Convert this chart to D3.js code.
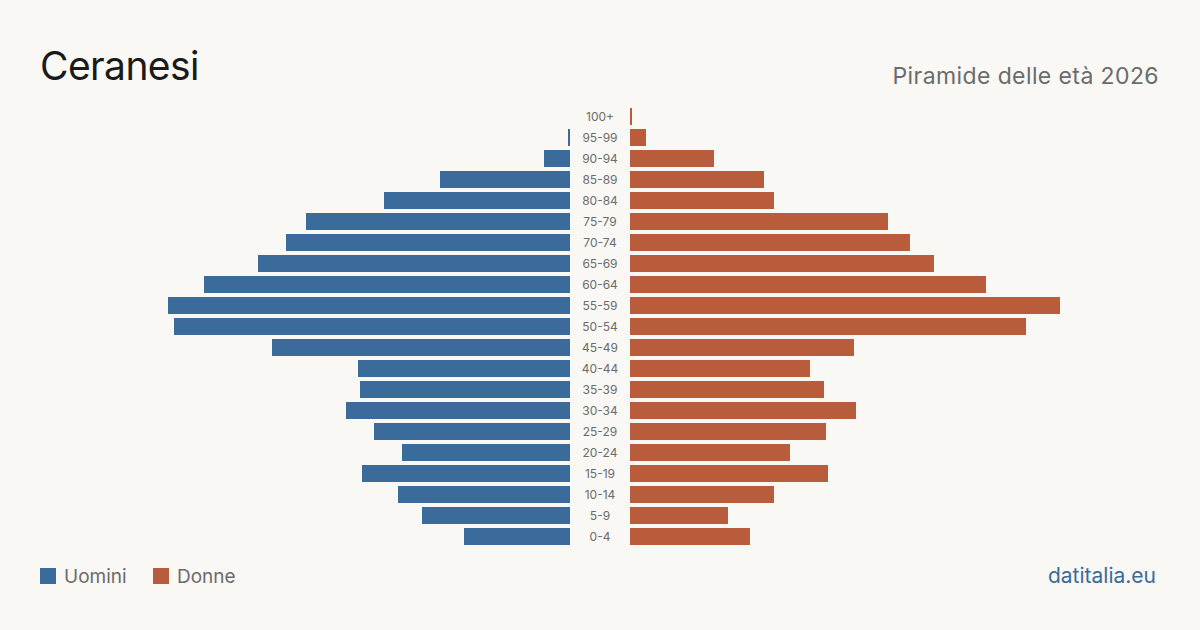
<!DOCTYPE html>
<html>
<head>
  <meta charset="utf-8">
  <title>Ceranesi - Piramide delle età 2026</title>
  <style>
    body { margin: 0; background: #f9f8f4; }
    svg { display: block; font-family: Inter, "Noto Sans", sans-serif; }
  </style>
</head>
<body>
  <script src="https://cdn.jsdelivr.net/npm/d3@7"></script>
  <script>
    // age classes, from youngest to oldest
    var ages = ["0-4", "5-9", "10-14", "15-19", "20-24", "25-29", "30-34", "35-39", "40-44", "45-49",
                "50-54", "55-59", "60-64", "65-69", "70-74", "75-79", "80-84", "85-89", "90-94", "95-99", "100+"];
    // residents by age class
    var uomini = [53, 74, 86, 104, 84, 98, 112, 105, 106, 149, 198, 201, 183, 156, 142, 132, 93, 65, 13, 1, 0];
    var donne  = [60, 49, 72, 99, 80, 98, 113, 97, 90, 112, 198, 215, 178, 152, 140, 129, 72, 67, 42, 8, 1];

    var width = 1200, height = 630;
    var blu = "#3b6b9b", rosso = "#b85c3c";

    var svg = d3.select("body").append("svg").attr("width", width).attr("height", height);
    svg.append("rect").attr("width", width).attr("height", height).attr("fill", "#f9f8f4");

    var maxVal = d3.max(uomini.concat(donne));
    // each side gets the same scale
    var xLeft = d3.scaleLinear().domain([0, maxVal]).range([570, 140]);
    var xRight = d3.scaleLinear().domain([0, maxVal]).range([630, 1060]);
    var y = d3.scaleBand().domain(ages.slice().reverse()).range([106, 547]).paddingInner(0.19).paddingOuter(0.095);

    svg.selectAll("rect.m").data(ages).enter().append("rect")
      .attr("class", "m")
      .attr("x", function(d, i) { return xLeft(uomini[i]); })
      .attr("y", function(d) { return y(d); })
      .attr("width", function(d, i) { return xLeft(0) - xLeft(uomini[i]); })
      .attr("height", y.bandwidth())
      .attr("fill", blu);

    svg.selectAll("rect.f").data(ages).enter().append("rect")
      .attr("class", "f")
      .attr("x", xRight(0))
      .attr("y", function(d) { return y(d); })
      .attr("width", function(d, i) { return xRight(donne[i]) - xRight(0); })
      .attr("height", y.bandwidth())
      .attr("fill", rosso);

    svg.selectAll("text.age").data(ages).enter().append("text")
      .attr("class", "age")
      .attr("x", 600)
      .attr("y", function(d) { return y(d) + y.bandwidth() / 2; })
      .attr("dy", "0.35em")
      .attr("text-anchor", "middle")
      .attr("font-size", 12)
      .attr("fill", "#6b6b6b")
      .text(function(d) { return d; });

    // titles
    svg.append("text").attr("x", 40).attr("y", 80).attr("font-size", 39).attr("letter-spacing", -0.6)
      .attr("fill", "#1a1a1a").text("Ceranesi");
    svg.append("text").attr("x", 1159).attr("y", 84).attr("text-anchor", "end").attr("font-size", 23)
      .attr("letter-spacing", 0.4).attr("fill", "#6b6b6b").text("Piramide delle età 2026");

    // legend
    var legend = [{ label: "Uomini", color: blu, x: 40 }, { label: "Donne", color: rosso, x: 153 }];
    var lg = svg.selectAll("g.legend").data(legend).enter().append("g")
      .attr("class", "legend")
      .attr("transform", function(d) { return "translate(" + d.x + ",568)"; });
    lg.append("rect").attr("width", 16).attr("height", 16).attr("fill", function(d) { return d.color; });
    lg.append("text").attr("x", 24).attr("y", 8).attr("dy", "0.35em").attr("font-size", 19)
      .attr("fill", "#6b6b6b").text(function(d) { return d.label; });

    svg.append("text").attr("x", 1156).attr("y", 583).attr("text-anchor", "end").attr("font-size", 21)
      .attr("fill", "#3b6b9b").text("datitalia.eu");
  </script>
</body>
</html>
